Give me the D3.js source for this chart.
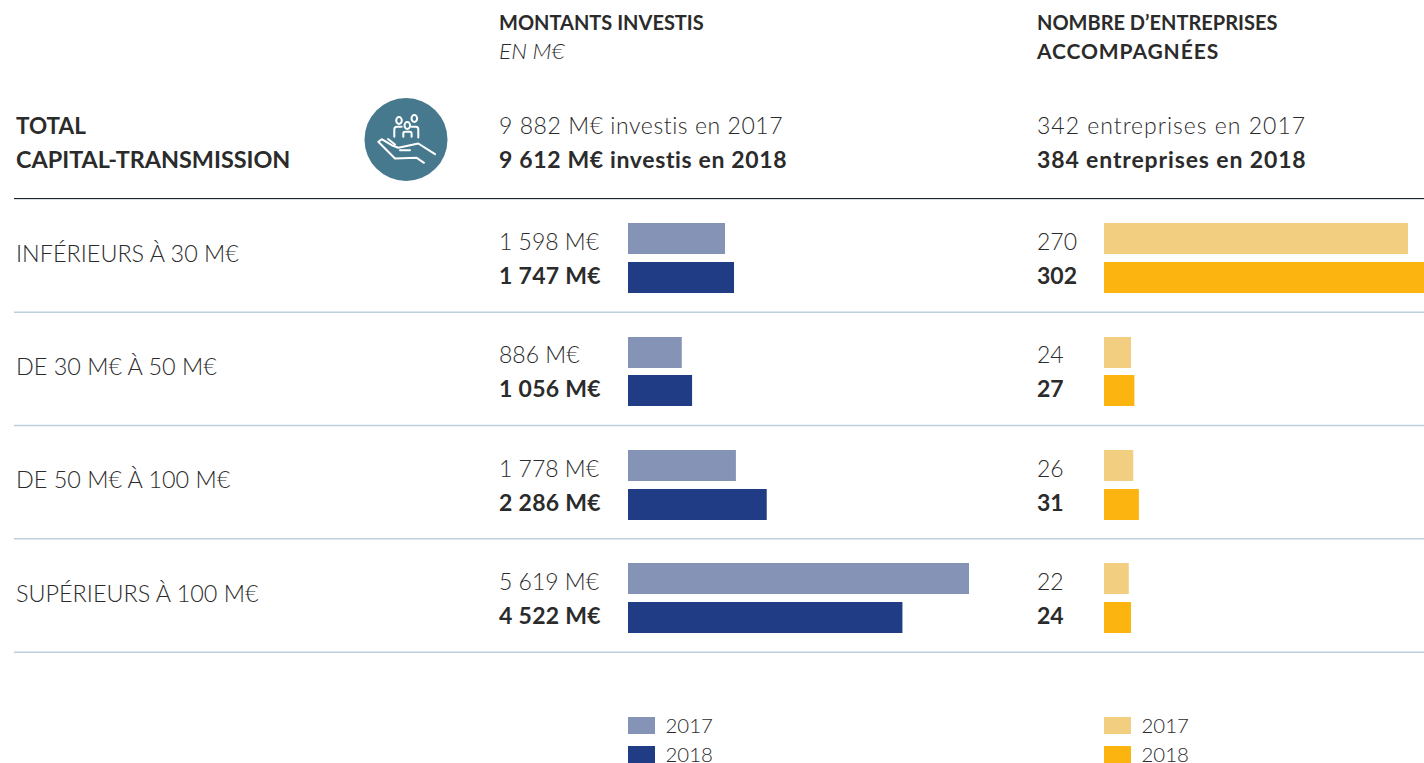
<!DOCTYPE html>
<html><head><meta charset="utf-8">
<script src="https://cdn.jsdelivr.net/npm/d3@7/dist/d3.min.js"></script>
<style>html,body{margin:0;padding:0;background:#fff;overflow:hidden}svg{display:block}text{font-family:Lato,sans-serif;fill:#2b2b2b}</style>
</head><body><svg id="c" width="1424" height="763"></svg>
<script>
const categories=["INFÉRIEURS À 30 M€","DE 30 M€ À 50 M€","DE 50 M€ À 100 M€","SUPÉRIEURS À 100 M€"];
const invest2017=[1598,886,1778,5619];
const invest2018=[1747,1056,2286,4522];
const firms2017=[270,24,26,22];
const firms2018=[302,27,31,24];
const investHeader=["MONTANTS INVESTIS","EN M€"];
const firmsHeader=["NOMBRE D’ENTREPRISES","ACCOMPAGNÉES"];
const totalLabel=["TOTAL","CAPITAL-TRANSMISSION"];
const investTotals=["9 882 M€ investis en 2017","9 612 M€ investis en 2018"];
const firmsTotals=["342 entreprises en 2017","384 entreprises en 2018"];
const years=["2017","2018"];
const fmt=v=>{const s=String(v);return s.length>3?s.slice(0,-3)+" "+s.slice(-3):s};

const svg=d3.select("#c");
const txt=(x,y,t,o={})=>svg.append("text").attr("x",x).attr("y",y).text(t)
  .attr("font-size",o.size||23).attr("font-weight",o.w||300).attr("font-style",o.i?"italic":"normal")
  .attr("letter-spacing",o.ls||0);

const band=d3.scaleBand().domain(categories).range([198.67,652]);
const xInv=d3.scaleLinear().domain([0,5619]).range([628,969]);
const xFirm=d3.scaleLinear().domain([0,270]).range([1104,1408]);

txt(499,30,investHeader[0],{size:20,w:700});
txt(499,59,investHeader[1],{size:22.5,i:1});
txt(1037,30,firmsHeader[0],{size:20,w:700});
txt(1037,59,firmsHeader[1],{size:21,w:700,ls:.9});
txt(16,134,totalLabel[0],{size:22.5,w:700});
txt(16,168,totalLabel[1],{size:23.4,w:700});
txt(499,134,investTotals[0],{ls:.56});
txt(499,168,investTotals[1],{w:700,ls:.64});
txt(1037,134,firmsTotals[0],{ls:1});
txt(1037,168,firmsTotals[1],{w:700,ls:.87});

// icon
const ic=svg.append("g").attr("transform","translate(406,139.5)");
ic.append("circle").attr("r",41.5).attr("fill","#46788e");
const st=ic.append("g").attr("fill","none").attr("stroke","#fff").attr("stroke-width",2).attr("stroke-linecap","round").attr("stroke-linejoin","round");
[[-7,-19],[1.3,-14],[8.3,-21]].forEach(([x,y])=>st.append("ellipse").attr("cx",x).attr("cy",y).attr("rx",2.8).attr("ry",3.4));
st.append("path").attr("d","M-11.7,-2.7V-10Q-11.7,-12.7 -9,-12.7H-4.3");
st.append("path").attr("d","M-2.7,-2.7V-6Q-2.7,-7.7 -1,-7.7H4Q5.6,-7.7 5.6,-6V-2.7");
st.append("path").attr("d","M5.6,-12.7H10Q12.3,-12.7 12.3,-10V-2");
st.append("path").attr("d","M-27.7,2.3L-24.3,-0.3L-14.3,5.7L-7.7,8.3L12.3,4L29,14.7M-27.7,2.3L-11,19L10.7,18.3L18,23.3M-6,10.7H4M-18,-0.5L-11,5");

categories.forEach((c,i)=>{
  const y0=band(c);
  txt(16,Math.round(y0+63),c,{size:23.4});
  svg.append("line").attr("x1",14).attr("x2",1424).attr("y1",y0+band.bandwidth()+.2).attr("y2",y0+band.bandwidth()+.2).attr("stroke","#bccfdb").attr("stroke-width",1.5);
  txt(499,y0+51.33,fmt(invest2017[i])+" M€");
  txt(499,y0+85.33,fmt(invest2018[i])+" M€",{w:700,ls:.3});
  txt(1037,y0+51.33,firms2017[i]);
  txt(1037,y0+85.33,firms2018[i],{w:700});
  const r1=Math.round(y0+24.67), r2=Math.round(y0+63.33);
  svg.append("rect").attr("x",xInv(0)).attr("y",r1).attr("width",xInv(invest2017[i])-xInv(0)).attr("height",31).attr("fill","#8493b6");
  svg.append("rect").attr("x",xInv(0)).attr("y",r2).attr("width",xInv(invest2018[i])-xInv(0)).attr("height",31).attr("fill","#203c85");
  svg.append("rect").attr("x",xFirm(0)).attr("y",r1).attr("width",xFirm(firms2017[i])-xFirm(0)).attr("height",31).attr("fill","#f1ce80");
  svg.append("rect").attr("x",xFirm(0)).attr("y",r2).attr("width",xFirm(firms2018[i])-xFirm(0)).attr("height",31).attr("fill","#fbb410");
});
svg.append("line").attr("x1",14).attr("x2",1424).attr("y1",199.5).attr("y2",199.5).attr("stroke","#d5dfe6").attr("stroke-width",1);
svg.append("line").attr("x1",14).attr("x2",1424).attr("y1",198.5).attr("y2",198.5).attr("stroke","#222").attr("stroke-width",1);

[[628,["#8493b6","#203c85"]],[1104,["#f1ce80","#fbb410"]]].forEach(([x,cols])=>{
  years.forEach((y,j)=>{
    svg.append("rect").attr("x",x).attr("y",717+j*29).attr("width",27).attr("height",17).attr("fill",cols[j]);
    txt(x+37.5,733+j*29,y,{size:20.4});
  });
});
</script></body></html>
